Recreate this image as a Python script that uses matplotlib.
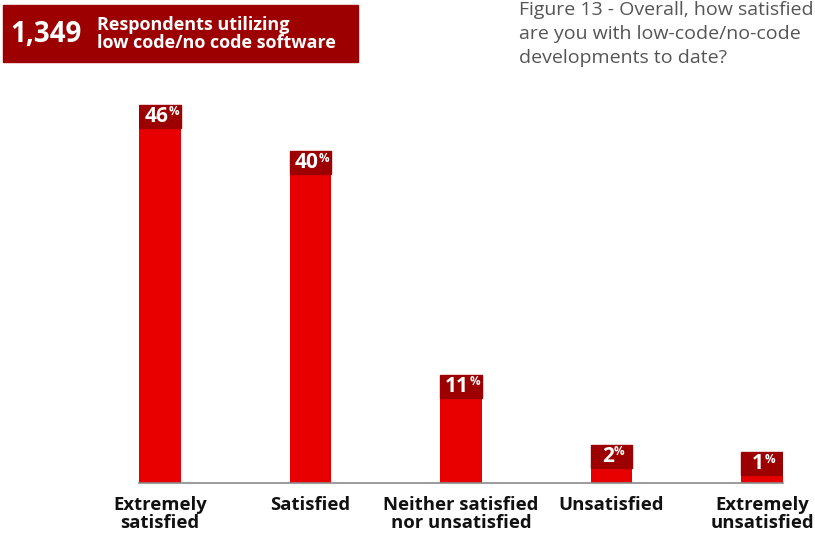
import matplotlib
matplotlib.use("Agg")
import matplotlib.pyplot as plt
from matplotlib.patches import Rectangle

categories = ["Extremely\nsatisfied", "Satisfied", "Neither satisfied\nnor unsatisfied",
              "Unsatisfied", "Extremely\nunsatisfied"]
values = [46, 40, 11, 2, 1]
respondents = "1,349"
respondents_text = "Respondents utilizing\nlow code/no code software"
title = "Figure 13 - Overall, how satisfied\nare you with low-code/no-code\ndevelopments to date?"

BAR_RED = "#e80000"
DARK_RED = "#9c0000"
FONT = "Open Sans"

W, H = 815, 535
fig = plt.figure(figsize=(W / 100, H / 100), dpi=100)

# plot area: baseline at y=483px, spans from first bar edge to last bar edge
ax_left, ax_right = 139, 783
ax_bottom, ax_top = 483, 80
ax = fig.add_axes([ax_left / W, (H - ax_bottom) / H,
                   (ax_right - ax_left) / W, (ax_bottom - ax_top) / H])

px_per_unit = 7.72
ymax = (ax_bottom - ax_top) / px_per_unit
box_h = 23 / px_per_unit
bar_w = 0.279
xs = list(range(len(values)))

ax.bar(xs, values, width=bar_w, color=BAR_RED, zorder=2)
for x, v in zip(xs, values):
    ax.add_patch(Rectangle((x - bar_w / 2, v), bar_w, box_h, color=DARK_RED, zorder=3))

ax.set_xlim(-bar_w / 2, xs[-1] + bar_w / 2)
ax.set_ylim(0, ymax)
for s in ["top", "right", "left"]:
    ax.spines[s].set_visible(False)
ax.spines["bottom"].set_color("#8a8a8a")
ax.spines["bottom"].set_linewidth(1.2)
ax.set_yticks([])
ax.set_xticks(xs)
ax.set_xticklabels(categories, fontsize=13.3, fontweight="bold", family=FONT,
                   color="#111111", linespacing=1.02, va="top")
ax.tick_params(axis="x", length=0, pad=9)

# value labels: number plus small superscript percent sign
fig.canvas.draw()
renderer = fig.canvas.get_renderer()
for x, v in zip(xs, values):
    yc = v + box_h / 2
    t = ax.text(x - 0.025, yc, str(v), ha="center", va="center", color="white",
                fontsize=15, fontweight="bold", family=FONT, zorder=4)
    bb = t.get_window_extent(renderer).transformed(ax.transData.inverted())
    ax.text(bb.x1 + 0.001, yc + box_h * 0.2, "%", ha="left", va="center",
            color="white", fontsize=8.5, fontweight="bold", family=FONT, zorder=4)

# header badge
fig.patches.append(Rectangle((3 / W, 1 - 62 / H), 355 / W, 57 / H,
                             transform=fig.transFigure, color=DARK_RED, zorder=0))
fig.text(10 / W, 1 - 34 / H, respondents, ha="left", va="center", color="white",
         fontsize=20, fontweight="bold", family=FONT)
fig.text(97 / W, 1 - 34.5 / H, respondents_text, ha="left", va="center", color="white",
         fontsize=13, fontweight="bold", family=FONT, linespacing=1.0)

# figure caption
fig.text(519 / W, 1 - 1 / H, title, ha="left", va="top", color="#555555",
         fontsize=14, family=FONT, linespacing=1.42)

fig.savefig("out.png", dpi=100)
